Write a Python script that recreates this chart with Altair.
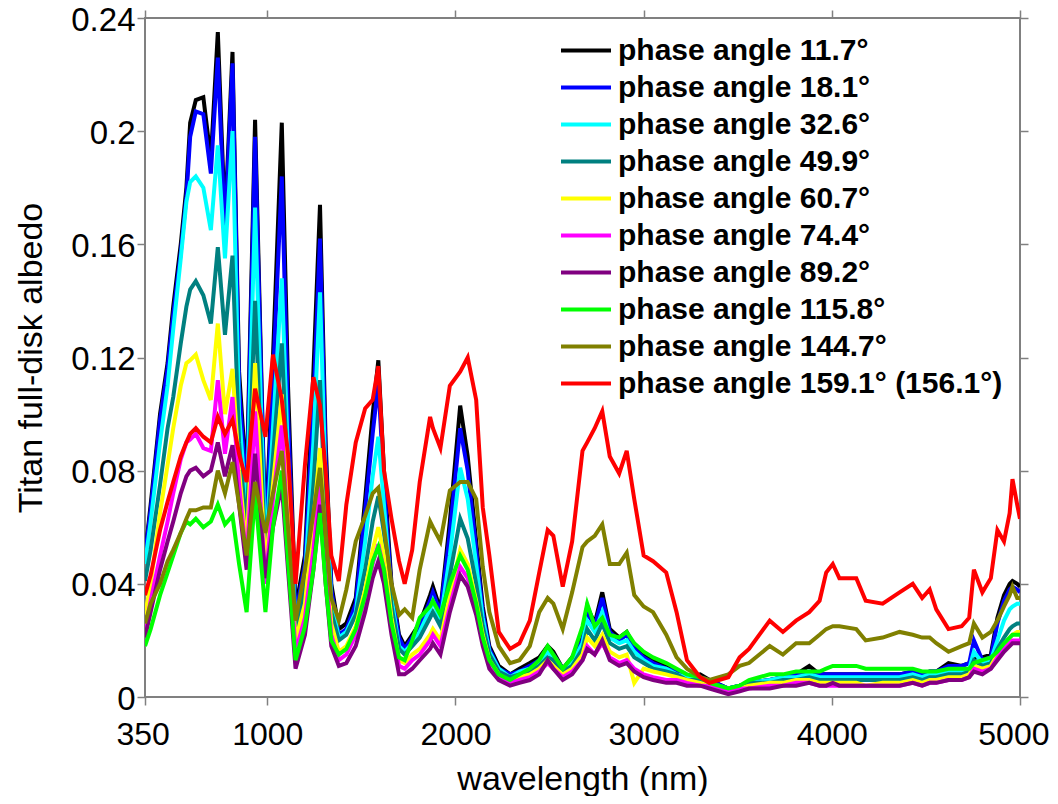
import altair as alt
import pandas as pd

WAVELENGTH = [350, 380, 430, 470, 500, 540, 570, 590, 620, 660,
              700, 737, 775, 815, 850, 890, 935, 990, 1030, 1077,
              1110, 1150, 1200, 1245, 1280, 1310, 1340, 1380, 1420, 1470,
              1520, 1560, 1590, 1620, 1660, 1700, 1730, 1770, 1810, 1865,
              1880, 1920, 1970, 2025, 2065, 2110, 2145, 2180, 2230, 2290,
              2340, 2395, 2445, 2490, 2520, 2570, 2620, 2675, 2700, 2740,
              2780, 2820, 2870, 2910, 2950, 3000, 3050, 3120, 3175, 3230,
              3300, 3350, 3450, 3510, 3560, 3670, 3740, 3810, 3880, 3935,
              3970, 4005, 4040, 4130, 4180, 4270, 4360, 4430, 4480, 4520,
              4555, 4620, 4690, 4730, 4755, 4800, 4845, 4880, 4915, 4945,
              4960, 4985, 5000]

PHASE_11_7 = [0.050, 0.068, 0.100, 0.118, 0.138, 0.160, 0.180, 0.203, 0.211, 0.212,
              0.190, 0.235, 0.168, 0.228, 0.115, 0.075, 0.204, 0.055, 0.120, 0.203,
              0.110, 0.031, 0.050, 0.115, 0.174, 0.090, 0.040, 0.024, 0.026, 0.035,
              0.070, 0.100, 0.119, 0.080, 0.040, 0.022, 0.018, 0.022, 0.026, 0.036,
              0.039, 0.031, 0.062, 0.103, 0.085, 0.055, 0.032, 0.018, 0.011, 0.008,
              0.010, 0.012, 0.014, 0.018, 0.016, 0.010, 0.014, 0.021, 0.032, 0.026,
              0.037, 0.024, 0.021, 0.023, 0.018, 0.015, 0.013, 0.011, 0.009, 0.007,
              0.008, 0.006, 0.003, 0.004, 0.005, 0.006, 0.007, 0.008, 0.011, 0.008,
              0.008, 0.008, 0.008, 0.008, 0.008, 0.008, 0.008, 0.009, 0.008, 0.009,
              0.009, 0.012, 0.011, 0.012, 0.014, 0.014, 0.015, 0.028, 0.036, 0.040,
              0.041, 0.040, 0.039]

PHASE_18_1 = [0.050, 0.066, 0.098, 0.116, 0.135, 0.157, 0.177, 0.198, 0.207, 0.206,
              0.185, 0.226, 0.164, 0.224, 0.110, 0.070, 0.198, 0.053, 0.112, 0.184,
              0.100, 0.029, 0.047, 0.103, 0.162, 0.085, 0.038, 0.022, 0.024, 0.033,
              0.066, 0.093, 0.111, 0.075, 0.038, 0.021, 0.017, 0.021, 0.025, 0.034,
              0.037, 0.030, 0.058, 0.095, 0.080, 0.052, 0.030, 0.017, 0.010, 0.008,
              0.009, 0.011, 0.013, 0.017, 0.015, 0.010, 0.013, 0.020, 0.030, 0.025,
              0.035, 0.023, 0.020, 0.022, 0.017, 0.014, 0.012, 0.010, 0.009, 0.007,
              0.007, 0.006, 0.003, 0.004, 0.005, 0.006, 0.007, 0.008, 0.009, 0.008,
              0.008, 0.008, 0.008, 0.008, 0.008, 0.008, 0.008, 0.009, 0.008, 0.009,
              0.009, 0.011, 0.011, 0.012, 0.020, 0.013, 0.014, 0.026, 0.034, 0.038,
              0.039, 0.038, 0.037]

PHASE_32_6 = [0.047, 0.062, 0.090, 0.110, 0.130, 0.155, 0.175, 0.182, 0.184, 0.180,
              0.165, 0.195, 0.155, 0.200, 0.100, 0.065, 0.173, 0.050, 0.095, 0.148,
              0.085, 0.025, 0.042, 0.090, 0.143, 0.075, 0.034, 0.021, 0.023, 0.030,
              0.055, 0.078, 0.092, 0.068, 0.035, 0.018, 0.016, 0.019, 0.023, 0.031,
              0.034, 0.027, 0.050, 0.081, 0.070, 0.047, 0.028, 0.016, 0.010, 0.007,
              0.009, 0.010, 0.012, 0.016, 0.014, 0.009, 0.012, 0.019, 0.027, 0.023,
              0.030, 0.021, 0.019, 0.020, 0.016, 0.013, 0.011, 0.010, 0.008, 0.007,
              0.007, 0.005, 0.003, 0.004, 0.005, 0.006, 0.007, 0.007, 0.008, 0.007,
              0.007, 0.007, 0.007, 0.007, 0.007, 0.007, 0.007, 0.008, 0.007, 0.008,
              0.008, 0.009, 0.009, 0.010, 0.016, 0.012, 0.013, 0.020, 0.027, 0.031,
              0.032, 0.033, 0.033]

PHASE_49_9 = [0.041, 0.052, 0.075, 0.095, 0.106, 0.125, 0.138, 0.144, 0.147, 0.142,
              0.132, 0.159, 0.128, 0.156, 0.090, 0.058, 0.140, 0.048, 0.085, 0.125,
              0.075, 0.024, 0.038, 0.075, 0.112, 0.062, 0.030, 0.020, 0.022, 0.029,
              0.045, 0.062, 0.071, 0.058, 0.032, 0.017, 0.015, 0.018, 0.021, 0.028,
              0.030, 0.025, 0.043, 0.063, 0.056, 0.040, 0.025, 0.015, 0.009, 0.007,
              0.008, 0.009, 0.011, 0.014, 0.013, 0.009, 0.011, 0.017, 0.024, 0.020,
              0.026, 0.019, 0.017, 0.018, 0.014, 0.012, 0.010, 0.009, 0.008, 0.006,
              0.006, 0.005, 0.003, 0.004, 0.005, 0.005, 0.006, 0.006, 0.007, 0.006,
              0.006, 0.006, 0.006, 0.006, 0.006, 0.006, 0.006, 0.007, 0.006, 0.007,
              0.007, 0.008, 0.008, 0.009, 0.013, 0.011, 0.012, 0.017, 0.021, 0.024,
              0.025, 0.026, 0.026]

PHASE_60_7 = [0.029, 0.040, 0.065, 0.082, 0.095, 0.110, 0.118, 0.119, 0.121, 0.112,
              0.105, 0.132, 0.100, 0.116, 0.080, 0.052, 0.118, 0.045, 0.075, 0.107,
              0.065, 0.020, 0.033, 0.062, 0.088, 0.052, 0.026, 0.016, 0.018, 0.025,
              0.038, 0.052, 0.060, 0.050, 0.028, 0.013, 0.012, 0.015, 0.017, 0.022,
              0.024, 0.020, 0.036, 0.052, 0.047, 0.034, 0.022, 0.013, 0.008, 0.005,
              0.007, 0.008, 0.010, 0.013, 0.011, 0.008, 0.010, 0.015, 0.021, 0.018,
              0.022, 0.016, 0.014, 0.015, 0.005, 0.010, 0.009, 0.008, 0.007, 0.006,
              0.005, 0.004, 0.003, 0.003, 0.004, 0.005, 0.005, 0.006, 0.006, 0.005,
              0.005, 0.005, 0.005, 0.005, 0.004, 0.005, 0.005, 0.006, 0.005, 0.006,
              0.006, 0.007, 0.007, 0.008, 0.011, 0.010, 0.011, 0.015, 0.018, 0.021,
              0.022, 0.023, 0.023]

PHASE_74_4 = [0.024, 0.034, 0.050, 0.062, 0.072, 0.084, 0.090, 0.091, 0.093, 0.088,
              0.087, 0.112, 0.086, 0.106, 0.075, 0.048, 0.101, 0.040, 0.070, 0.096,
              0.058, 0.016, 0.028, 0.052, 0.075, 0.045, 0.022, 0.013, 0.015, 0.022,
              0.034, 0.047, 0.054, 0.045, 0.025, 0.011, 0.010, 0.013, 0.015, 0.020,
              0.022, 0.018, 0.032, 0.046, 0.042, 0.031, 0.020, 0.012, 0.007, 0.005,
              0.006, 0.007, 0.009, 0.012, 0.010, 0.007, 0.009, 0.013, 0.018, 0.015,
              0.019, 0.014, 0.012, 0.013, 0.010, 0.008, 0.007, 0.006, 0.006, 0.005,
              0.004, 0.004, 0.002, 0.003, 0.003, 0.004, 0.004, 0.005, 0.005, 0.004,
              0.004, 0.004, 0.004, 0.004, 0.004, 0.004, 0.004, 0.005, 0.004, 0.005,
              0.005, 0.006, 0.006, 0.007, 0.010, 0.009, 0.010, 0.014, 0.017, 0.019,
              0.020, 0.020, 0.020]

PHASE_89_2 = [0.021, 0.030, 0.045, 0.055, 0.062, 0.072, 0.078, 0.080, 0.081, 0.078,
              0.080, 0.090, 0.078, 0.089, 0.068, 0.045, 0.086, 0.042, 0.060, 0.075,
              0.045, 0.010, 0.022, 0.045, 0.068, 0.040, 0.018, 0.011, 0.012, 0.018,
              0.030, 0.042, 0.048, 0.040, 0.022, 0.008, 0.008, 0.010, 0.013, 0.017,
              0.019, 0.015, 0.030, 0.043, 0.039, 0.029, 0.018, 0.010, 0.006, 0.004,
              0.005, 0.006, 0.008, 0.013, 0.010, 0.006, 0.008, 0.013, 0.017, 0.015,
              0.020, 0.013, 0.011, 0.012, 0.009, 0.007, 0.006, 0.005, 0.005, 0.004,
              0.004, 0.003, 0.001, 0.002, 0.003, 0.003, 0.004, 0.004, 0.005, 0.004,
              0.004, 0.005, 0.004, 0.004, 0.004, 0.004, 0.004, 0.005, 0.004, 0.005,
              0.005, 0.006, 0.006, 0.007, 0.009, 0.008, 0.010, 0.013, 0.016, 0.018,
              0.019, 0.019, 0.019]

PHASE_115_8 = [0.018, 0.024, 0.036, 0.044, 0.050, 0.058, 0.062, 0.061, 0.063, 0.060,
               0.062, 0.068, 0.061, 0.064, 0.047, 0.030, 0.072, 0.030, 0.060, 0.080,
               0.048, 0.013, 0.025, 0.045, 0.065, 0.040, 0.020, 0.015, 0.017, 0.024,
               0.036, 0.048, 0.053, 0.045, 0.026, 0.014, 0.013, 0.020, 0.028, 0.032,
               0.034, 0.029, 0.040, 0.050, 0.045, 0.033, 0.021, 0.013, 0.008, 0.006,
               0.008, 0.010, 0.013, 0.018, 0.015, 0.010, 0.014, 0.025, 0.033, 0.025,
               0.028, 0.022, 0.021, 0.023, 0.019, 0.016, 0.014, 0.012, 0.010, 0.008,
               0.007, 0.005, 0.003, 0.004, 0.006, 0.008, 0.008, 0.009, 0.009, 0.009,
               0.010, 0.011, 0.011, 0.011, 0.010, 0.010, 0.010, 0.010, 0.009, 0.009,
               0.009, 0.010, 0.010, 0.010, 0.012, 0.013, 0.014, 0.016, 0.019, 0.021,
               0.022, 0.022, 0.022]

PHASE_144_7 = [0.026, 0.033, 0.040, 0.048, 0.052, 0.058, 0.063, 0.066, 0.066, 0.067,
               0.067, 0.080, 0.072, 0.083, 0.068, 0.050, 0.076, 0.058, 0.072, 0.087,
               0.060, 0.027, 0.045, 0.065, 0.081, 0.058, 0.035, 0.027, 0.038, 0.055,
               0.064, 0.072, 0.074, 0.060, 0.040, 0.029, 0.031, 0.028, 0.045, 0.062,
               0.060, 0.055, 0.073, 0.076, 0.076, 0.070, 0.046, 0.030, 0.018, 0.012,
               0.013, 0.018, 0.030, 0.035, 0.033, 0.024, 0.037, 0.053, 0.055, 0.057,
               0.061, 0.047, 0.047, 0.051, 0.036, 0.032, 0.030, 0.022, 0.014, 0.010,
               0.007, 0.006, 0.008, 0.011, 0.012, 0.018, 0.015, 0.019, 0.019, 0.022,
               0.024, 0.025, 0.025, 0.024, 0.020, 0.021, 0.023, 0.022, 0.021, 0.021,
               0.019, 0.016, 0.018, 0.019, 0.026, 0.021, 0.023, 0.027, 0.032, 0.036,
               0.039, 0.035, 0.035]

PHASE_159_1 = [0.036, 0.043, 0.059, 0.069, 0.076, 0.085, 0.090, 0.093, 0.095, 0.092,
               0.090, 0.099, 0.093, 0.098, 0.086, 0.076, 0.109, 0.092, 0.121, 0.105,
               0.086, 0.040, 0.082, 0.113, 0.103, 0.080, 0.050, 0.041, 0.068, 0.090,
               0.102, 0.105, 0.117, 0.080, 0.063, 0.048, 0.040, 0.052, 0.076, 0.099,
               0.095, 0.088, 0.110, 0.115, 0.120, 0.105, 0.067, 0.050, 0.023, 0.017,
               0.019, 0.027, 0.044, 0.059, 0.057, 0.039, 0.055, 0.087, 0.090, 0.095,
               0.101, 0.085, 0.079, 0.087, 0.070, 0.050, 0.048, 0.044, 0.030, 0.013,
               0.007, 0.005, 0.007, 0.014, 0.017, 0.027, 0.023, 0.027, 0.030, 0.034,
               0.044, 0.047, 0.042, 0.042, 0.034, 0.033, 0.037, 0.040, 0.035, 0.038,
               0.031, 0.024, 0.025, 0.028, 0.045, 0.037, 0.042, 0.059, 0.055, 0.065,
               0.077, 0.068, 0.063]

SERIES_NAMES = [
    "phase angle 11.7°", "phase angle 18.1°", "phase angle 32.6°",
    "phase angle 49.9°", "phase angle 60.7°", "phase angle 74.4°",
    "phase angle 89.2°", "phase angle 115.8°", "phase angle 144.7°",
    "phase angle 159.1° (156.1°)",
]
SERIES_VALUES = [PHASE_11_7, PHASE_18_1, PHASE_32_6, PHASE_49_9, PHASE_60_7,
                 PHASE_74_4, PHASE_89_2, PHASE_115_8, PHASE_144_7, PHASE_159_1]
SERIES_COLORS = ["#000000", "#0000ff", "#00ffff", "#008080", "#ffff00",
                 "#ff00ff", "#800080", "#00ff00", "#808000", "#ff0000"]

X_TICKS = [350, 1000, 2000, 3000, 4000, 5000]
Y_TICKS = [0, 0.04, 0.08, 0.12, 0.16, 0.2, 0.24]

for name, vals in zip(SERIES_NAMES, SERIES_VALUES):
    if len(vals) != len(WAVELENGTH):
        raise ValueError(f"{name}: {len(vals)} values vs {len(WAVELENGTH)} wavelengths")

rows = []
for order, (name, vals) in enumerate(zip(SERIES_NAMES, SERIES_VALUES)):
    for w, v in zip(WAVELENGTH, vals):
        rows.append({"wavelength": w, "albedo": v, "series": name, "order": order})
df = pd.DataFrame(rows)

W, H = 875, 679
FONT = "Liberation Sans"
GRAY = "#808080"

x_scale = alt.Scale(domain=[350, 5000], nice=False, zero=False)
y_scale = alt.Scale(domain=[0, 0.24], nice=False, zero=False)

lines = alt.Chart(df).mark_line(strokeWidth=4, clip=True).encode(
    x=alt.X("wavelength:Q", scale=x_scale,
            axis=alt.Axis(orient="bottom", values=X_TICKS, format="d",
                          title="wavelength (nm)", labelPadding=14, titlePadding=12,
                          labelFontSize=32, labelFlush=True, labelFlushOffset=29)),
    y=alt.Y("albedo:Q", scale=y_scale,
            axis=alt.Axis(orient="left", values=Y_TICKS, format=".2~f",
                          title="Titan full-disk albedo", labelPadding=2,
                          labelFontSize=33,
                          labelBaseline="alphabetic", labelOffset=12,
                          titlePadding=22)),
    color=alt.Color("series:N",
                    scale=alt.Scale(domain=SERIES_NAMES, range=SERIES_COLORS),
                    sort=SERIES_NAMES,
                    legend=alt.Legend(title=None, orient="none", legendX=414, legendY=14,
                                      labelFontSize=30, labelFontWeight="bold",
                                      labelFont=FONT, labelColor="black",
                                      symbolType="stroke", symbolStrokeWidth=4,
                                      symbolSize=2500, labelOffset=5, padding=0,
                                      labelLimit=600, rowPadding=0, clipHeight=37)),
    order=alt.Order("wavelength:Q"),
)

frame = alt.Chart(df).mark_point(opacity=0, size=1).encode(
    x=alt.X("wavelength:Q", scale=x_scale,
            axis=alt.Axis(orient="top", values=X_TICKS, labels=False, title=None)),
    y=alt.Y("albedo:Q", scale=y_scale,
            axis=alt.Axis(orient="right", values=Y_TICKS, labels=False, title=None)),
)

chart = alt.layer(frame, lines).resolve_axis(
    x="independent", y="independent"
).properties(
    width=W, height=H,
    background="white",
    autosize=alt.AutoSizeParams(type="none"),
    padding={"left": 137, "top": 10, "right": 30, "bottom": 99},
).configure_view(
    stroke=GRAY, strokeWidth=2
).configure_axis(
    grid=False, domain=False, ticks=True, tickSize=8, tickColor=GRAY, tickWidth=1.5,
    labelFont=FONT, labelFontSize=34, labelColor="black",
    titleFont=FONT, titleFontSize=34, titleFontWeight="normal", titleColor="black",
)

chart.save("out.html", embed_options={"renderer": "svg", "actions": False})
